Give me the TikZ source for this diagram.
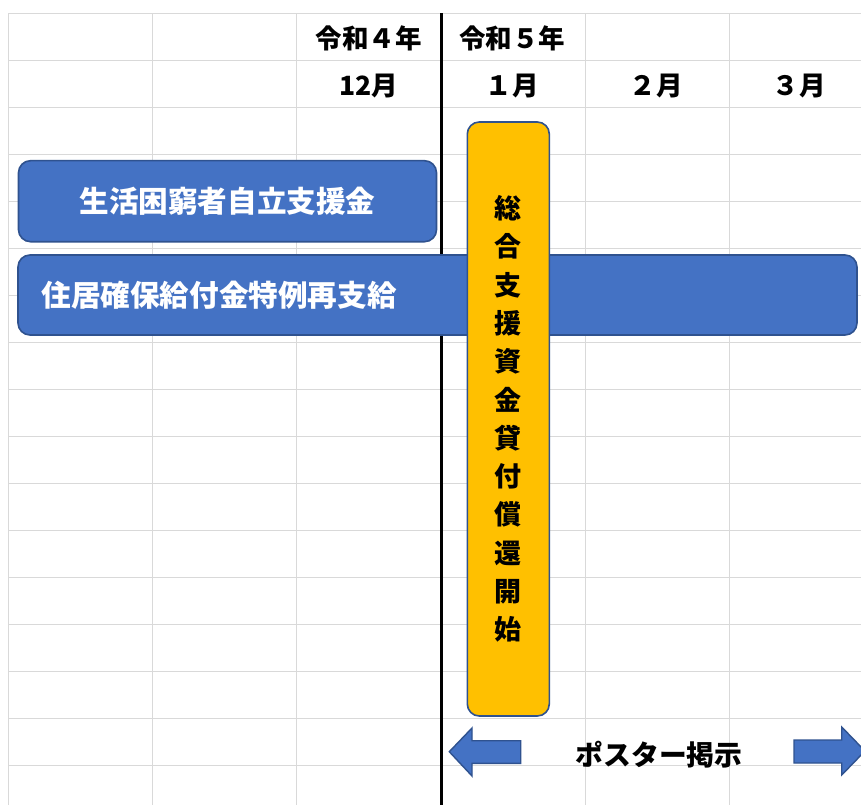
\documentclass[tikz,border=0pt]{standalone}
\usepackage{fontspec}
\newfontfamily\jp{Noto Sans CJK JP}
\definecolor{gridgray}{HTML}{D9D9D9}
\definecolor{boxblue}{HTML}{4472C4}
\definecolor{edgeblue}{HTML}{2F528F}
\definecolor{gold}{HTML}{FFC000}
\begin{document}
\begin{tikzpicture}[x=1pt,y=-1pt,
  gridline/.style={draw=gridgray, line width=1pt},
  nowline/.style={draw=black, line width=2.5pt},
  bar/.style={draw=edgeblue, line width=1.6pt, fill=boxblue, rounded corners=12pt,
    text=white, inner sep=0pt, font=\jp\bfseries\fontsize{29.6}{30}\selectfont},
  goldbar/.style={draw=edgeblue, line width=1.6pt, fill=gold, rounded corners=12pt,
    text=black, inner sep=0pt, align=center, font=\jp\bfseries\fontsize{27}{38.3}\selectfont},
  head/.style={text=black, inner sep=0pt, font=\jp\bfseries\fontsize{26.5}{26.5}\selectfont},
  label/.style={text=black, inner sep=0pt, font=\jp\bfseries\fontsize{27.8}{28}\selectfont},
  arrowshape/.style={draw=edgeblue, line width=1.4pt, fill=boxblue}]
\useasboundingbox (0,0) rectangle (861,805);
\clip (0,0) rectangle (861,805);
\fill[white] (0,0) rectangle (861,805);
% grid
\foreach \k in {0,...,16} \draw[gridline] (8.3,13.3+47*\k) -- (861,13.3+47*\k);
\foreach \x in {8.3,152.5,296.5,585,729} \draw[gridline] (\x,13.3) -- (\x,805);
% today line
\coordinate (ltop) at (441.5,13.3);
\coordinate (lbot) at (441.5,805);
\draw[nowline] (ltop) -- (lbot);
% headers
\node[head] (y4) at (368.5,38) {令和４年};
\node[head] (y5) at (512,38) {令和５年};
\node[head] (m12) at (368.5,86) {12月};
\node[head] (m1) at (512,86) {１月};
\node[head] (m2) at (656,86) {２月};
\node[head] (m3) at (799,86) {３月};
% bars
\node[bar, minimum width=418pt, minimum height=81pt] (b1) at (227.5,201.2) {生活困窮者自立支援金};
\node[bar, minimum height=80pt, text width=792pt, inner xsep=23.5pt, align=left] (b2) at (437.5,295) {住居確保給付金特例再支給};
\node[goldbar, minimum width=82pt, minimum height=594pt] (g) at (508.3,419)
  {総\\合\\支\\援\\資\\金\\貸\\付\\償\\還\\開\\始};
% poster arrows
\draw[arrowshape] (449.3,751.7) -- (472,728) -- (472,740.7) -- (520.7,740.7) -- (520.7,763.3) -- (472,763.3) -- (472,776) -- cycle;
\draw[arrowshape] (865,751) -- (841.7,727) -- (841.7,740) -- (794,740) -- (794,763) -- (841.7,763) -- (841.7,775) -- cycle;
\node[label] (poster) at (659,755) {ポスター掲示};
\end{tikzpicture}
\end{document}
